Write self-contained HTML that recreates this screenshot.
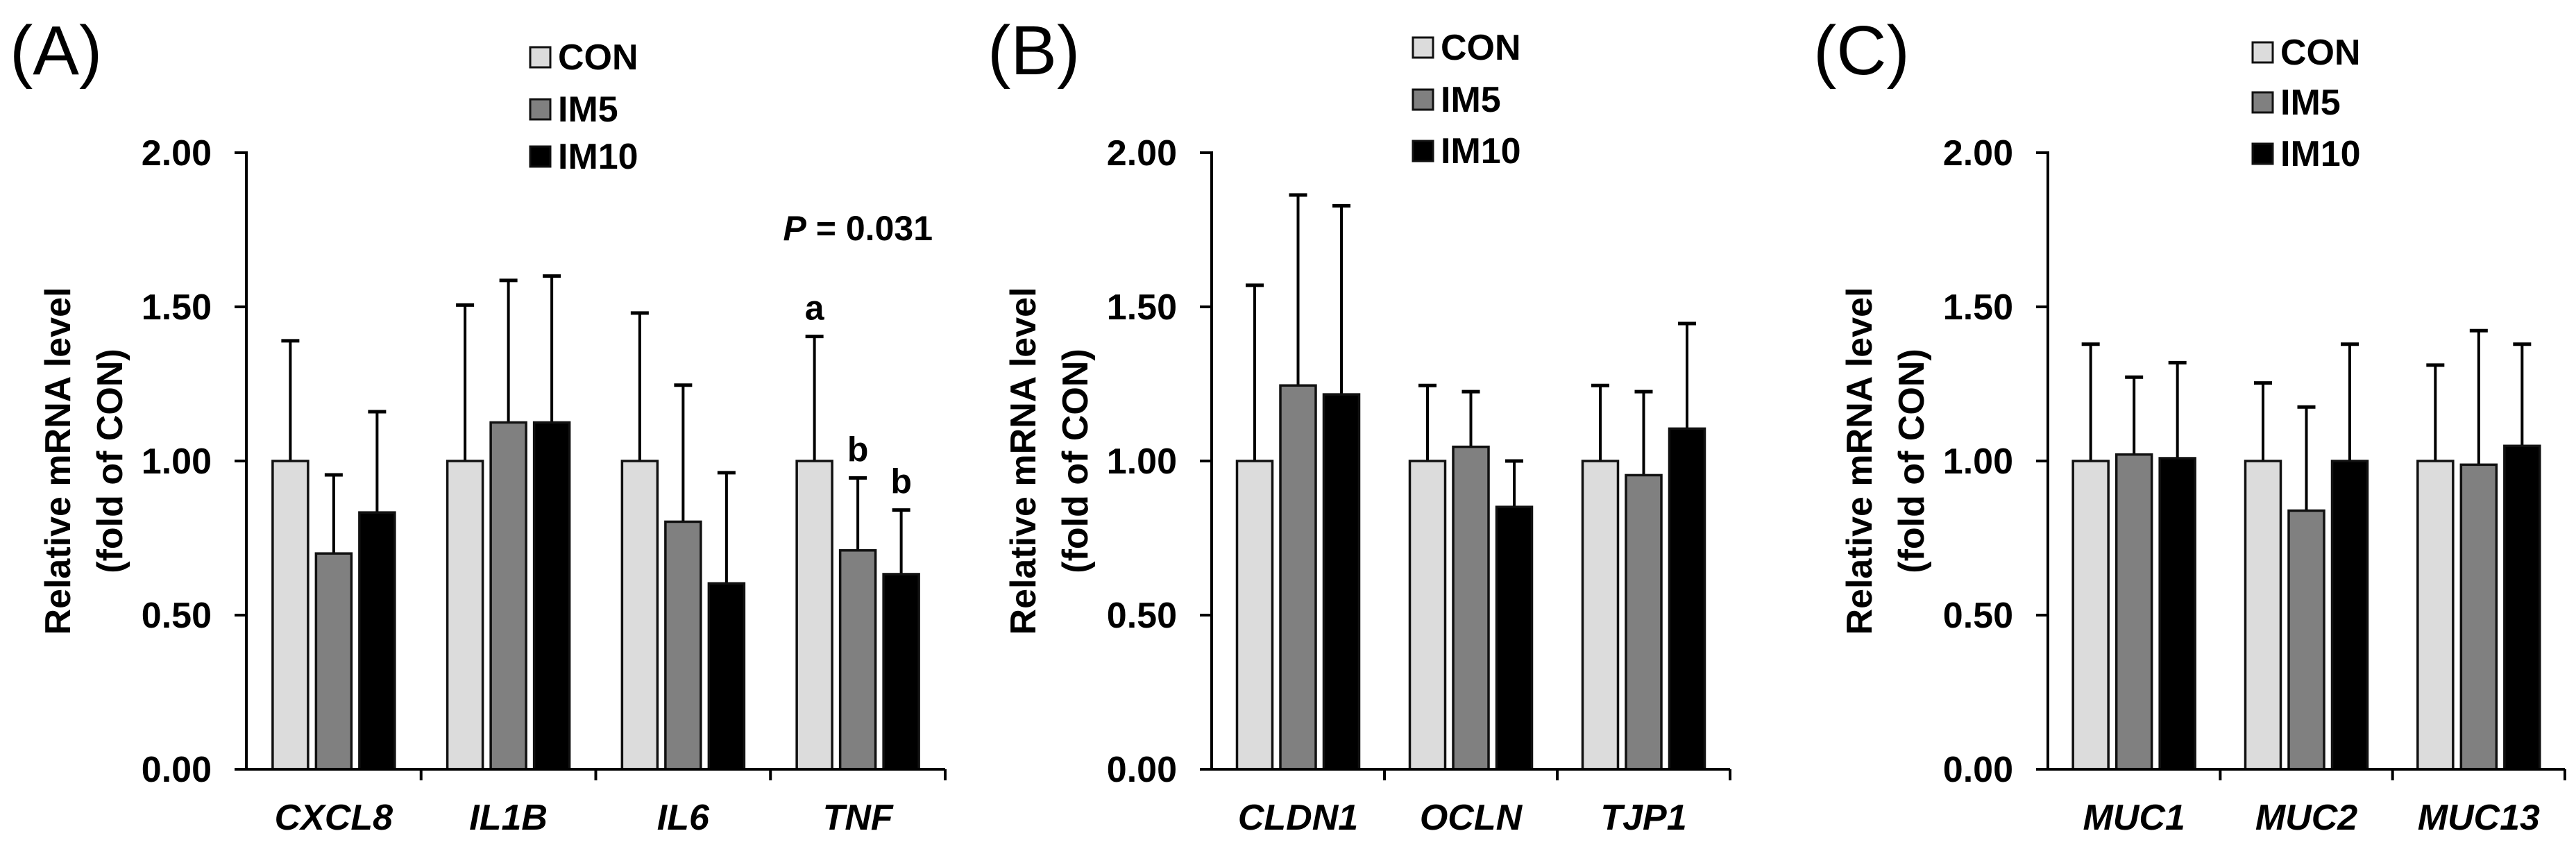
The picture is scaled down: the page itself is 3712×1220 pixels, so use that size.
<!DOCTYPE html>
<html><head><meta charset="utf-8"><style>
html,body{margin:0;padding:0;background:#fff;}
svg{display:block;font-family:"Liberation Sans",Arial,sans-serif;}
</style></head><body>
<svg id="chart" width="3712" height="1220" viewBox="0 0 3712 1220" xmlns="http://www.w3.org/2000/svg"></svg>
<script>
// ---- data ----
const seriesNames = ["CON","IM5","IM10"];
const yTicks = [0, 0.5, 1.0, 1.5, 2.0];
const yTickLabels = ["0.00","0.50","1.00","1.50","2.00"];
const catsA = ["CXCL8","IL1B","IL6","TNF"];
const meanA_CON = [1.0, 1.0, 1.0, 1.0];
const meanA_IM5 = [0.70, 1.125, 0.803, 0.71];
const meanA_IM10 = [0.833, 1.125, 0.603, 0.633];
const errA_CON = [1.39, 1.506, 1.48, 1.404];
const errA_IM5 = [0.955, 1.586, 1.246, 0.945];
const errA_IM10 = [1.16, 1.60, 0.962, 0.841];
const catsB = ["CLDN1","OCLN","TJP1"];
const meanB_CON = [1.0, 1.0, 1.0];
const meanB_IM5 = [1.245, 1.046, 0.954];
const meanB_IM10 = [1.216, 0.851, 1.105];
const errB_CON = [1.57, 1.245, 1.245];
const errB_IM5 = [1.863, 1.225, 1.225];
const errB_IM10 = [1.828, 1.0, 1.446];
const catsC = ["MUC1","MUC2","MUC13"];
const meanC_CON = [1.0, 1.0, 1.0];
const meanC_IM5 = [1.021, 0.839, 0.988];
const meanC_IM10 = [1.009, 1.0, 1.049];
const errC_CON = [1.379, 1.253, 1.311];
const errC_IM5 = [1.272, 1.175, 1.423];
const errC_IM10 = [1.319, 1.379, 1.379];
const sigLettersTNF = ["a","b","b"];

const NS = "http://www.w3.org/2000/svg";
const svg = document.getElementById("chart");
const fills = ["#dcdcdc","#808080","#000000"];
function mk(tag, attrs, parent){
  const e = document.createElementNS(NS, tag);
  for (const k in attrs) e.setAttribute(k, attrs[k]);
  (parent||svg).appendChild(e);
  return e;
}
const Y0 = 1108, Y2 = 220;
function yScale(v){ return Y0 - (Y0 - Y2) * v / 2; }

function panel(id, x0, x1, cats, means, errs, label, labelX, legX, legYs){
  const g = mk("g", {});
  
  
  const cw = (x1 - x0) / cats.length;
  function xCat(i){ return x0 + cw * (i + 0.5); }
  // panel label
  const pl = mk("text", {x: labelX, y: 107, "font-size": 100}, g);
  pl.textContent = label;
  
  
  // y axis title
  const yt = mk("text", {transform: `translate(${x0-254},664) rotate(-90)`, "text-anchor":"middle", "font-size":52, "font-weight":"bold"}, g);
  yt.textContent = "Relative mRNA level";
  
  
  const yt2 = mk("text", {transform: `translate(${x0-179},664) rotate(-90)`, "text-anchor":"middle", "font-size":52, "font-weight":"bold"}, g);
  yt2.textContent = "(fold of CON)";
  
  
  // y ticks
  yTicks.forEach((v, i) => {
    const yy = yScale(v);
    const tl = mk("line", {x1: x0-17, x2: x0, y1: yy, y2: yy, stroke:"#000", "stroke-width":4}, g);
    
    
    const t = mk("text", {x: x0-50, y: yy+18, "text-anchor":"end", "font-size":52, "font-weight":"bold"}, g);
    t.textContent = yTickLabels[i];
    
    
  });
  // bars
  const bw = 51, step = 62.5;
  cats.forEach((c, i) => {
    for (let s = 0; s < 3; s++) {
      const cx = xCat(i) + (s - 1) * step;
      const top = yScale(means[s][i]);
      const et = yScale(errs[s][i]);
      const el = mk("line", {x1: cx, x2: cx, y1: top, y2: et, stroke:"#000", "stroke-width":4}, g);
      
      
      const ec = mk("line", {x1: cx-13, x2: cx+13, y1: et, y2: et, stroke:"#000", "stroke-width":5}, g);
      
      
      const r = mk("rect", {x: cx-bw/2, y: top, width: bw, height: Y0-top, fill: fills[s], stroke:"#111", "stroke-width":3.5}, g);
      
      
    }
    const xl = mk("text", {x: xCat(i), y: 1195, "text-anchor":"middle", "font-size":52, "font-weight":"bold", "font-style":"italic"}, g);
    xl.textContent = c;
    
    
  });
  // axes
  const ya = mk("line", {x1: x0, x2: x0, y1: Y2-2, y2: Y0+2, stroke:"#000", "stroke-width":4}, g);
  
  
  const xa = mk("line", {x1: x0-2, x2: x1, y1: Y0, y2: Y0, stroke:"#000", "stroke-width":4}, g);
  
  
  for (let i = 1; i <= cats.length; i++) {
    const tx = x0 + cw * i;
    const tk = mk("line", {x1: tx, x2: tx, y1: Y0, y2: Y0+16, stroke:"#000", "stroke-width":4}, g);
    
    
  }
  // legend
  seriesNames.forEach((n, s) => {
    const ly = legYs[s];
    const sw = mk("rect", {x: legX, y: ly, width: 29, height: 29, fill: fills[s], stroke:"#111", "stroke-width":3}, g);
    
    
    const lt = mk("text", {x: legX+40, y: ly+32, "font-size":52, "font-weight":"bold"}, g);
    lt.textContent = n;
    
    
  });
  return {g, xCat, step};
}

const pA = panel("a", 355, 1362, catsA,
  [meanA_CON, meanA_IM5, meanA_IM10], [errA_CON, errA_IM5, errA_IM10],
  "(A)", 14, 764, [68, 143, 211]);
const pB = panel("b", 1746, 2493, catsB,
  [meanB_CON, meanB_IM5, meanB_IM10], [errB_CON, errB_IM5, errB_IM10],
  "(B)", 1423, 2036, [54, 129, 203]);
const pC = panel("c", 2951, 3696, catsC,
  [meanC_CON, meanC_IM5, meanC_IM10], [errC_CON, errC_IM5, errC_IM10],
  "(C)", 2613, 3246, [61, 133, 207]);

// P value and significance letters (panel A, TNF)
const pv = mk("text", {x: 1344, y: 346, "text-anchor":"end", "font-size":50, "font-weight":"bold"});
pv.innerHTML = '<tspan font-style="italic">P</tspan> = 0.031';


const tnfIdx = 3;
const tnfErr = [errA_CON[tnfIdx], errA_IM5[tnfIdx], errA_IM10[tnfIdx]];
sigLettersTNF.forEach((L, s) => {
  const cx = pA.xCat(tnfIdx) + (s - 1) * pA.step;
  const t = mk("text", {x: cx, y: yScale(tnfErr[s]) - 24, "text-anchor":"middle", "font-size":50, "font-weight":"bold"});
  t.textContent = L;
  
  
});
</script>
</body></html>
